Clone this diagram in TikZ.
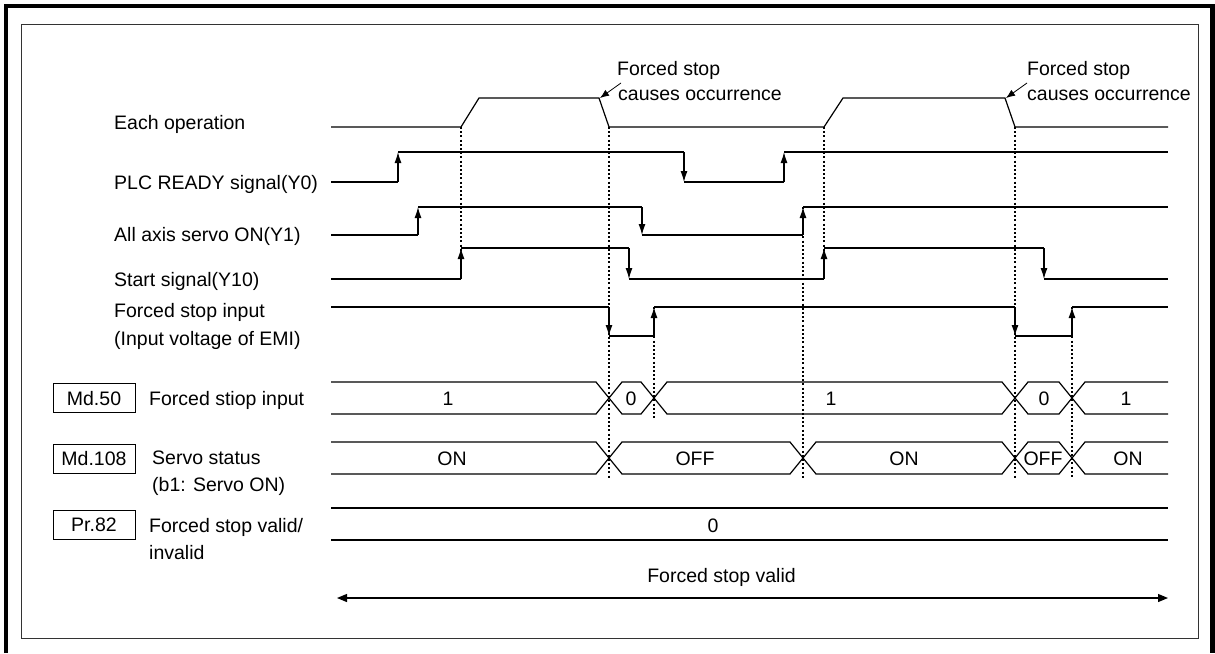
\documentclass[tikz,border=0pt]{standalone}
\usepackage{fontspec}
\setmainfont{Liberation Sans}
\usetikzlibrary{arrows.meta}
\begin{document}
\begin{tikzpicture}[x=1pt,y=-1pt,
  every node/.style={font=\fontsize{19.5}{23}\selectfont, inner sep=0pt},
  lbl/.style={anchor=base west},
  val/.style={anchor=base},
  regbox/.style={draw, line width=1pt, minimum width=82pt, minimum height=29pt, text height=14pt, text depth=0pt},
  sig/.style={line width=1.2pt, line join=miter},
  edge/.style={sig, -{Latex[length=11pt,width=7pt]}},
  dots/.style={line width=1.8pt, dash pattern=on 2pt off 2.2pt},
  note/.style={line width=0.8pt, -{Latex[length=9pt,width=7pt]}},
  span/.style={line width=1.2pt, {Triangle[length=10pt,width=8pt]}-{Triangle[length=10pt,width=8pt]}}
]
\useasboundingbox (0,0) rectangle (1215,653);
% frames
\draw[line width=4.6pt, line join=miter] (6,653) -- (6,6) -- (1212.5,6) -- (1212.5,653);
\draw[line width=1pt, black!80] (21,24) rectangle (1198,638);

% left labels
\node[lbl] (lop) at (114,129.5) {Each operation};
\node[lbl] (lplc) at (114,189) {PLC READY signal(Y0)};
\node[lbl] (lsv) at (114,241) {All axis servo ON(Y1)};
\node[lbl] (lst) at (114,286.5) {Start signal(Y10)};
\node[lbl] (lfs1) at (114,317) {Forced stop input};
\node[lbl] (lfs2) at (114,345.5) {(Input voltage of EMI)};

\node[regbox] (md50) at (94,398) {Md.50};
\node[lbl] (lmd50) at (149,405.7) {Forced stiop input};
\node[regbox] (md108) at (94,458.5) {Md.108};
\node[lbl] (lmd108a) at (152,464.5) {Servo status};
\node[lbl] (lmd108b) at (152,491) {(b1: Servo ON)};
\node[regbox] (pr82) at (94,524.5) {Pr.82};
\node[lbl] (lpr82a) at (149,532.5) {Forced stop valid/};
\node[lbl] (lpr82b) at (149,559) {invalid};

% annotations
\node[lbl] (fa1) at (617,75) {Forced stop};
\node[lbl] (fb1) at (618,100) {causes occurrence};
\node[lbl] (fa2) at (1027,75) {Forced stop};
\node[lbl] (fb2) at (1027,100) {causes occurrence};
\coordinate (t1) at (621,83);
\coordinate (h1) at (600,98);
\coordinate (t2) at (1027,83);
\coordinate (h2) at (1006,98);
\draw[note] (t1) -- (h1);
\draw[note] (t2) -- (h2);

% dotted guide lines
\draw[dots] (461,127) -- (461,279);
\draw[dots] (609,127) -- (609,478);
\draw[dots] (654,307) -- (654,419);
\draw[dots] (803,207) -- (803,478);
\draw[dots] (824,127) -- (824,279);
\draw[dots] (1015,127) -- (1015,478);
\draw[dots] (1072,307) -- (1072,478);

% Each operation
\draw[sig] (331,127) -- (461,127) -- (479,98) -- (599,98) -- (609,127) -- (824,127) -- (843,98) -- (1005,98) -- (1015,127) -- (1168,127);

% PLC READY
\draw[sig] (331,182) -- (398,182);
\draw[edge] (398,182) -- (398,152);
\draw[sig] (398,152) -- (684,152);
\draw[edge] (684,152) -- (684,182);
\draw[sig] (684,182) -- (784,182);
\draw[edge] (784,182) -- (784,152);
\draw[sig] (784,152) -- (1168,152);

% All axis servo ON
\draw[sig] (331,235) -- (418,235);
\draw[edge] (418,235) -- (418,207);
\draw[sig] (418,207) -- (642,207);
\draw[edge] (642,207) -- (642,235);
\draw[sig] (642,235) -- (803,235);
\draw[edge] (803,235) -- (803,207);
\draw[sig] (803,207) -- (1168,207);

% Start signal
\draw[sig] (331,279) -- (461,279);
\draw[edge] (461,279) -- (461,248);
\draw[sig] (461,248) -- (629,248);
\draw[edge] (629,248) -- (629,279);
\draw[sig] (629,279) -- (824,279);
\draw[edge] (824,279) -- (824,248);
\draw[sig] (824,248) -- (1044,248);
\draw[edge] (1044,248) -- (1044,279);
\draw[sig] (1044,279) -- (1168,279);

% Forced stop input
\draw[sig] (331,307) -- (609,307);
\draw[edge] (609,307) -- (609,336);
\draw[sig] (609,336) -- (654,336);
\draw[edge] (654,336) -- (654,307);
\draw[sig] (654,307) -- (1015,307);
\draw[edge] (1015,307) -- (1015,336);
\draw[sig] (1015,336) -- (1072,336);
\draw[edge] (1072,336) -- (1072,307);
\draw[sig] (1072,307) -- (1168,307);

% Md.50 bus
\draw[sig] (331,382) -- (596,382) -- (622,414) -- (641,414) -- (667,382) -- (1002,382) -- (1028,414) -- (1059,414) -- (1085,382) -- (1168,382);
\draw[sig] (331,414) -- (596,414) -- (622,382) -- (641,382) -- (667,414) -- (1002,414) -- (1028,382) -- (1059,382) -- (1085,414) -- (1168,414);
\node[val] (v50a) at (448,405.7) {1};
\node[val] (v50b) at (631,405.7) {0};
\node[val] (v50c) at (831,405.7) {1};
\node[val] (v50d) at (1044,405.7) {0};
\node[val] (v50e) at (1126,405.7) {1};

% Md.108 bus
\draw[sig] (331,442) -- (596,442) -- (622,474) -- (790,474) -- (816,442) -- (1002,442) -- (1028,474) -- (1059,474) -- (1085,442) -- (1168,442);
\draw[sig] (331,474) -- (596,474) -- (622,442) -- (790,442) -- (816,474) -- (1002,474) -- (1028,442) -- (1059,442) -- (1085,474) -- (1168,474);
\node[val] (v108a) at (452,465.7) {ON};
\node[val] (v108b) at (695,465.7) {OFF};
\node[val] (v108c) at (904,465.7) {ON};
\node[val] (v108d) at (1043,465.7) {OFF};
\node[val] (v108e) at (1128,465.7) {ON};

% Pr.82
\draw[line width=1.8pt] (331,508) -- (1168,508);
\draw[sig] (331,540) -- (1168,540);
\node[val] (v82) at (713,532.7) {0};

% forced stop valid span
\node[val] (fsv) at (721.5,582.7) {Forced stop valid};
\coordinate (sL) at (337,598);
\coordinate (sR) at (1168,598);
\draw[span] (sL) -- (sR);
\end{tikzpicture}
\end{document}
